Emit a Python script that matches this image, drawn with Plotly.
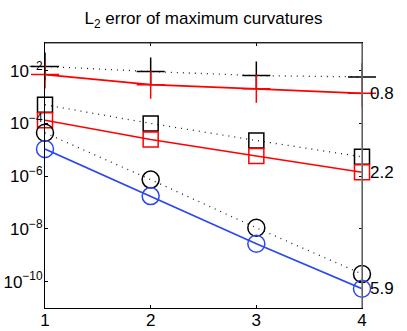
import math

import plotly.graph_objects as go

# refinement levels and L2 errors
levels = [1, 2, 3, 4]

plus_ref = [1.45e-2, 9.3e-3, 6.5e-3, 5.8e-3]
plus_fit = [7.1e-3, 2.95e-3, 2.05e-3, 1.38e-3]

square_ref = [5.1e-4, 1.0e-4, 2.25e-5, 5.4e-6]
square_fit = [1.32e-4, 2.45e-5, 5.8e-6, 1.4e-6]

circle_ref = [4.4e-5, 7.4e-7, 1.1e-8, 1.95e-10]
circle_fit = [1.07e-5, 1.75e-7, 2.75e-9, 5.4e-11]

rates = ["0.8", "2.2", "5.9"]

y_tick_vals = [1e-10, 1e-8, 1e-6, 1e-4, 1e-2]
y_tick_exps = ["−10", "−8", "−6", "−4", "−2"]

RED = "#ff0000"
BLUE = "#2a47f0"
font = dict(family="Liberation Sans, Arial, sans-serif", size=17, color="black")

fig = go.Figure()


def add(y, color, symbol, size, dash):
    c = "#222222" if dash else color
    fig.add_trace(
        go.Scatter(
            x=levels,
            y=y,
            mode="lines+markers",
            line=dict(color=c, width=1.3 if dash else 1.6, dash="1px,5px" if dash else "solid"),
            marker=dict(symbol=symbol, size=size, color="black" if dash else c,
                        line=dict(width=1.5)),
            cliponaxis=False,
            showlegend=False,
        )
    )


add(plus_ref, None, "cross-thin-open", 20, True)
add(plus_fit, RED, "cross-thin-open", 20, False)
add(square_ref, None, "square-open", 15, True)
add(square_fit, RED, "square-open", 15, False)
add(circle_ref, None, "circle-open", 17, True)
add(circle_fit, BLUE, "circle-open", 17, False)

# convergence rate next to the last point of each fitted series
for y, txt in zip([plus_fit[-1], square_fit[-1], circle_fit[-1]], rates):
    fig.add_annotation(x=levels[-1], y=math.log10(y), yref="y", xref="x", text=txt,
                       showarrow=False, xanchor="left", xshift=6, font=dict(size=17))

# box: right spine is grey in the original
fig.add_shape(type="line", xref="paper", yref="paper", x0=1, x1=1, y0=0, y1=1,
              line=dict(color="#808080", width=1.5), layer="above")
fig.add_shape(type="line", xref="paper", yref="paper", x0=0, x1=1, y0=1, y1=1,
              line=dict(color="#404040", width=1), layer="above")

fig.update_layout(
    width=407,
    height=331,
    margin=dict(l=45, r=45, t=43, b=23, autoexpand=False),
    paper_bgcolor="white",
    plot_bgcolor="white",
    font=font,
    title=dict(text="L<sub>2</sub> error of maximum curvatures", x=0.5, xanchor="center",
               y=0.945, yanchor="middle", font=dict(size=17)),
)
fig.update_xaxes(
    range=[1, 4], tickvals=levels, showgrid=False, zeroline=False,
    showline=True, linecolor="black", linewidth=1, automargin=False,
    ticks="inside", ticklen=3, tickcolor="black", mirror="ticks",
    ticklabelstandoff=-3,
)
fig.update_yaxes(
    type="log", range=[-11, -0.95],
    tickvals=y_tick_vals,
    ticktext=[f"10<sup>{e}</sup>" for e in y_tick_exps],
    showgrid=False, zeroline=False, showline=True, linecolor="black", linewidth=1,
    ticks="inside", ticklen=3, tickcolor="black", mirror="ticks", automargin=False,
    ticklabelstandoff=-2,
)

fig.write_html("out.html", config={"displayModeBar": False},
               post_script="document.body.style.margin='0px';")
